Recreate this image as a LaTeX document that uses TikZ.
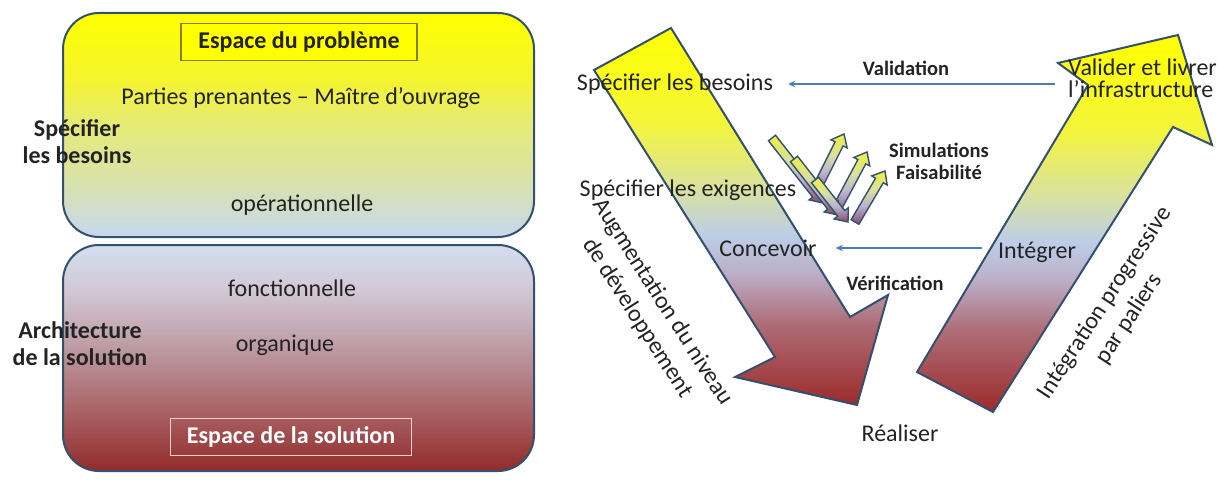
\documentclass[tikz,border=0pt]{standalone}
\usepackage{fontspec}
\setmainfont{Carlito}
\usetikzlibrary{calc,arrows.meta}

\definecolor{ink}{HTML}{232323}
\definecolor{edge}{HTML}{34506F}
\definecolor{link}{HTML}{4A7EBB}
\definecolor{titleline}{HTML}{80801E}
\definecolor{titlefill}{HTML}{FFFF00}
\definecolor{solline}{HTML}{F4CFCF}

% vertical shadings: 0bp = bottom, 100bp = top, path spans 25bp..75bp
\pgfdeclareverticalshading{probshade}{100bp}{%
  color(0bp)=(rgb,255:red,198;green,215;blue,238);
  color(25bp)=(rgb,255:red,198;green,215;blue,238);
  color(32bp)=(rgb,255:red,210;green,222;blue,200);
  color(40bp)=(rgb,255:red,220;green,227;blue,160);
  color(50bp)=(rgb,255:red,230;green,234;blue,120);
  color(60bp)=(rgb,255:red,244;green,244;blue,48);
  color(75bp)=(rgb,255:red,255;green,255;blue,0);
  color(100bp)=(rgb,255:red,255;green,255;blue,0)}
\pgfdeclareverticalshading{solshade}{100bp}{%
  color(0bp)=(rgb,255:red,147;green,42;blue,42);
  color(25bp)=(rgb,255:red,147;green,42;blue,42);
  color(40bp)=(rgb,255:red,172;green,106;blue,109);
  color(53bp)=(rgb,255:red,190;green,157;blue,166);
  color(65bp)=(rgb,255:red,210;green,200;blue,214);
  color(75bp)=(rgb,255:red,211;green,222;blue,240);
  color(100bp)=(rgb,255:red,211;green,222;blue,240)}
\pgfdeclareverticalshading{bigshade}{100bp}{%
  color(0bp)=(rgb,255:red,155;green,43;blue,43);
  color(25bp)=(rgb,255:red,155;green,43;blue,43);
  color(36bp)=(rgb,255:red,174;green,110;blue,120);
  color(42.5bp)=(rgb,255:red,188;green,175;blue,200);
  color(47.5bp)=(rgb,255:red,189;green,205;blue,232);
  color(53.5bp)=(rgb,255:red,217;green,225;blue,162);
  color(62.5bp)=(rgb,255:red,244;green,245;blue,58);
  color(75bp)=(rgb,255:red,255;green,255;blue,0);
  color(100bp)=(rgb,255:red,255;green,255;blue,0)}
\pgfdeclareverticalshading{minshade}{100bp}{%
  color(0bp)=(rgb,255:red,138;green,74;blue,106);
  color(25bp)=(rgb,255:red,138;green,74;blue,106);
  color(42bp)=(rgb,255:red,184;green,176;blue,208);
  color(57bp)=(rgb,255:red,216;green,224;blue,160);
  color(75bp)=(rgb,255:red,236;green,240;blue,64);
  color(100bp)=(rgb,255:red,236;green,240;blue,64)}

% small block arrow from tail (#2) to tip (#3)
\newcommand\minarrow[3]{%
  \coordinate (#1-t) at #2;
  \coordinate (#1-h) at #3;
  \coordinate (#1-b) at ($(#1-h)!11pt!(#1-t)$);
  \shade[minarrow]
    ($(#1-t)!4.5pt!90:(#1-h)$) -- ($(#1-b)!4.5pt!-90:(#1-t)$) --
    ($(#1-b)!9pt!-90:(#1-t)$) -- (#1-h) --
    ($(#1-b)!9pt!90:(#1-t)$) -- ($(#1-b)!4.5pt!90:(#1-t)$) --
    ($(#1-t)!4.5pt!-90:(#1-h)$) -- cycle;}

\begin{document}
\begin{tikzpicture}[x=1pt,y=-1pt,
  txt/.style={text=ink, inner sep=0pt, font=\fontsize{24}{27}\selectfont},
  lbl/.style={text=ink, inner sep=0pt, align=center, font=\bfseries\fontsize{24}{27}\selectfont},
  smalllbl/.style={text=ink, inner sep=0pt, align=center, font=\bfseries\fontsize{20.5}{22}\selectfont},
  panel/.style={draw=edge, line width=2pt, rounded corners=36pt},
  bigarrow/.style={draw=edge, line width=2pt, shading=bigshade, line join=miter},
  minarrow/.style={draw=edge, line width=1.4pt, shading=minshade, line join=miter},
  conn/.style={draw=link, line width=1.4pt, -{Stealth[length=7pt,width=6.5pt]}}
]
\useasboundingbox (0,0) rectangle (1218,484);
\clip (0,0) rectangle (1218,484);

% ---- problem / solution spaces ----
\shade[panel, shading=probshade] (63,13) rectangle (534,237);
\shade[panel, shading=solshade] (63,245) rectangle (534,471);

\node[lbl, fill=titlefill, draw=titleline, line width=1.3pt,
      minimum width=236pt, minimum height=37pt] (probtitle) at (299,42) {Espace du problème};
\node[lbl, text=white, draw=solline, line width=1.3pt,
      minimum width=241pt, minimum height=37pt] (soltitle) at (291,437) {Espace de la solution};

\node[txt] (parties) at (301,98) {Parties prenantes – Maître d’ouvrage};
\node[txt] (operat) at (302,205) {opérationnelle};
\node[txt] (fonction) at (292,288) {fonctionnelle};
\node[txt] (organ) at (285,345) {organique};
\node[lbl] (specbes) at (77,142) {Spécifier\\les besoins};
\node[lbl] (archi) at (80,344) {Architecture\\de la solution};

% ---- V cycle ----
\shade[bigarrow] (594,70) -- (671,28) -- (850,317) -- (888,295) -- (857,405)
  -- (735,377) -- (775,357) -- cycle;
\shade[bigarrow] (917,372) -- (1088,85) -- (1058,63) -- (1178,35) -- (1212,145)
  -- (1173,127) -- (993,412) -- cycle;

% simulation / feasibility loops: feedback arrows behind, trial arrows in front
\minarrow{u1}{(815,192)}{(844,134)}
\minarrow{u2}{(835,212)}{(867,152)}
\minarrow{u3}{(855,222)}{(885,171)}
\minarrow{d1}{(772,138)}{(823,203)}
\minarrow{d2}{(794,159)}{(838,215)}
\minarrow{d3}{(815,180)}{(848,222)}

\node[txt] (besoins) at (675,84) {Spécifier les besoins};
\node[smalllbl] (validation) at (906,68) {Validation};
\node[txt, anchor=west, align=left, font=\fontsize{24}{22}\selectfont] (valider) at (1068,78)
  {Valider et livrer\\l’infrastructure};
\node[smalllbl] (simul) at (939,161) {Simulations\\Faisabilité};
\node[txt] (exig) at (688,190) {Spécifier les exigences};
\node[txt] (concevoir) at (768,248) {Concevoir};
\node[txt] (integrer) at (1037,252) {Intégrer};
\node[smalllbl] (verif) at (895,283) {Vérification};
\node[txt] (realiser) at (900,433) {Réaliser};
\node[txt, align=center, rotate=-57.4, font=\fontsize{24}{30}\selectfont] (augm) at (650,310)
  {Augmentation du niveau\\de développement};
\node[txt, align=center, rotate=56.7, font=\fontsize{24}{29}\selectfont] (intprog) at (1117,311)
  {Intégration progressive\\par paliers};

\draw[conn, shorten <=13pt, shorten >=15pt] (valider.west |- besoins.east) -- (besoins.east);
\draw[conn, shorten <=16pt, shorten >=19pt] (integrer.west |- concevoir.east) -- (concevoir.east);
\end{tikzpicture}
\end{document}
